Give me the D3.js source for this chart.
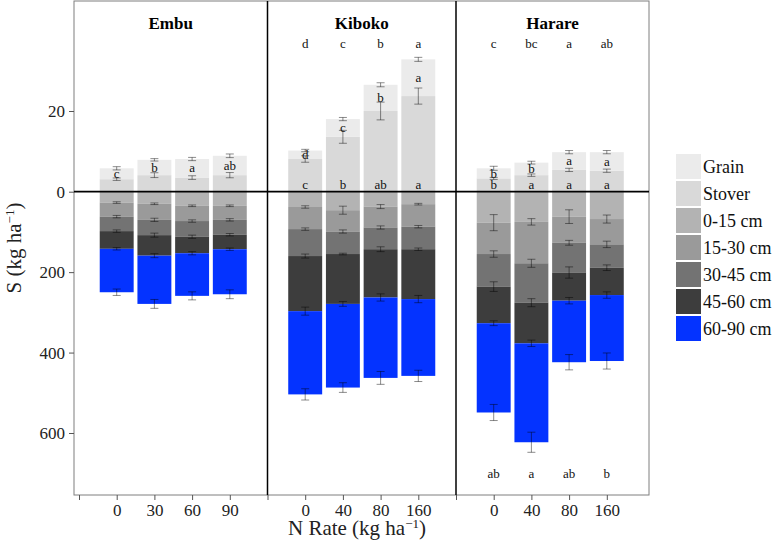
<!DOCTYPE html>
<html><head><meta charset="utf-8">
<script src="https://cdn.jsdelivr.net/npm/d3@7"></script>
<style>body{margin:0;background:#fff}svg{display:block}</style>
</head><body>
<svg id="chart" width="774" height="553"></svg>
<script>
// ---------- DATA ----------
const sites = ["Embu", "Kiboko", "Harare"];
const rateLabels = [["0","30","60","90"], ["0","40","80","160"], ["0","40","80","160"]];
const upperKeys = ["Stover", "Grain"];
const lowerKeys = ["0-15 cm", "15-30 cm", "30-45 cm", "45-60 cm", "60-90 cm"];
const legendKeys = ["Grain", "Stover", "0-15 cm", "15-30 cm", "30-45 cm", "45-60 cm", "60-90 cm"];

// per site, per N rate (kg S ha-1)
const stover = [[3.1, 4.1, 3.5, 4.1], [8.1, 13.6, 20.0, 23.7], [3.3, 4.1, 5.4, 5.2]];
const grain  = [[2.7, 3.8, 4.6, 4.8], [2.1, 4.4, 6.5, 9.1], [2.5, 3.1, 4.4, 4.6]];
const soil0_15  = [[27, 30, 35, 35], [38, 46, 37, 31], [77, 75, 62, 68]];
const soil15_30 = [[35, 40, 38, 35], [55, 53, 52, 56], [78, 103, 65, 63]];
const soil30_45 = [[36, 38, 39, 37], [67, 56, 54, 56], [81, 98, 74, 58]];
const soil45_60 = [[44, 51, 41, 36], [137, 124, 120, 124], [91, 101, 70, 68]];
const soil60_90 = [[108, 120, 106, 112], [207, 208, 200, 191], [222, 246, 153, 164]];

// standard errors (half-widths)
const errStover = [[0.3, 0.6, 0.45, 0.65], [0.8, 1.6, 2.2, 2.0], [0.25, 0.3, 0.4, 0.4]];
const errGrain  = [[0.4, 0.3, 0.4, 0.45], [0.3, 0.4, 0.5, 0.5], [0.5, 0.35, 0.4, 0.4]];
const err0_15  = [[2, 2, 2, 2], [3, 10, 5, 2], [20, 8, 17, 10]];
const err15_30 = [[3, 4, 3, 3], [3, 4, 4, 3], [8, 10, 6, 8]];
const err30_45 = [[3, 5, 4, 3], [5, 2, 6, 3], [12, 10, 14, 7]];
const err45_60 = [[3, 5, 4, 3], [10, 6, 9, 9], [6, 8, 8, 8]];
const err60_90 = [[8, 11, 10, 11], [14, 12, 16, 14], [20, 25, 19, 20]];

// significance letters
const grainLetters  = [["c","b","a","ab"], ["d","c","b","a"], ["b","b","a","a"]];
const stoverLetters = [[], ["c","b","ab","a"], ["b","a","a","a"]];
const totalLetters  = [[], ["d","c","b","a"], ["c","bc","a","ab"]];
const soilLetters   = [[], [], ["ab","a","ab","b"]];

const upperTicks = [0, 20];
const lowerTicks = [200, 400, 600];

// ---------- STYLE ----------
const colors = {"Grain":"#ebebeb","Stover":"#d9d9d9","0-15 cm":"#b3b3b3","15-30 cm":"#9a9a9a",
  "30-45 cm":"#737373","45-60 cm":"#3d3d3d","60-90 cm":"#0433ff"};
const serif = "'Liberation Serif','Times New Roman',serif";

const svg = d3.select("#chart");
const L = 74, R = 649, T = 1, B = 495;

// slots along the x axis: spacer, 4 bars, divider, 4 bars, divider, 4 bars
const slots = [];
const rows = [];
sites.forEach((s, si) => {
  slots.push("sep" + si);
  rateLabels[si].forEach((r, ri) => {
    const id = s + "-" + r;
    slots.push(id);
    const row = {id, site: si, rate: ri, label: r,
      "Stover": stover[si][ri], "Grain": grain[si][ri],
      "0-15 cm": soil0_15[si][ri], "15-30 cm": soil15_30[si][ri], "30-45 cm": soil30_45[si][ri],
      "45-60 cm": soil45_60[si][ri], "60-90 cm": soil60_90[si][ri]};
    row.err = {"Stover": errStover[si][ri], "Grain": errGrain[si][ri],
      "0-15 cm": err0_15[si][ri], "15-30 cm": err15_30[si][ri], "30-45 cm": err30_45[si][ri],
      "45-60 cm": err45_60[si][ri], "60-90 cm": err60_90[si][ri]};
    rows.push(row);
  });
});

const x = d3.scalePoint().domain(slots).range([79, 606.8]);
const step = x.step();
const bw = step * 0.9;
const yUp = d3.scaleLinear().domain([0, 20]).range([191.7, 111]);
const yDown = d3.scaleLinear().domain([0, 600]).range([191.7, 433]);

const upStack = d3.stack().keys(upperKeys)(rows);
const downStack = d3.stack().keys(lowerKeys)(rows);

const gBars = svg.append("g");
upStack.forEach(layer => {
  gBars.selectAll(null).data(layer).join("rect")
    .attr("x", d => x(d.data.id) - bw / 2)
    .attr("width", bw)
    .attr("y", d => yUp(d[1]))
    .attr("height", d => yUp(d[0]) - yUp(d[1]))
    .attr("fill", colors[layer.key]);
});
downStack.forEach(layer => {
  gBars.selectAll(null).data(layer).join("rect")
    .attr("x", d => x(d.data.id) - bw / 2)
    .attr("width", bw)
    .attr("y", d => yDown(d[0]))
    .attr("height", d => yDown(d[1]) - yDown(d[0]))
    .attr("fill", colors[layer.key]);
});

// error bars
const gErr = svg.append("g").attr("stroke", "#000").attr("stroke-opacity", 0.45).attr("stroke-width", 1).attr("fill", "none");
const cap = 4;
function errBar(cx, y1, y2) {
  gErr.append("line").attr("x1", cx).attr("x2", cx).attr("y1", y1).attr("y2", y2);
  gErr.append("line").attr("x1", cx - cap).attr("x2", cx + cap).attr("y1", y1).attr("y2", y1);
  gErr.append("line").attr("x1", cx - cap).attr("x2", cx + cap).attr("y1", y2).attr("y2", y2);
}
upStack.forEach(layer => layer.forEach(d => {
  const e = d.data.err[layer.key], cx = x(d.data.id);
  errBar(cx, yUp(d[1] + e), yUp(d[1] - e));
}));
downStack.forEach(layer => layer.forEach(d => {
  const e = d.data.err[layer.key], cx = x(d.data.id);
  errBar(cx, yDown(d[1] - e), yDown(d[1] + e));
}));

// letters
const gTxt = svg.append("g").attr("font-family", serif).attr("font-size", 13).attr("fill", "#111").attr("text-anchor", "middle");
const gStack = upStack.find(l => l.key === "Grain");
rows.forEach((r, i) => {
  const cx = x(r.id);
  const gl = grainLetters[r.site][r.rate];
  if (gl) gTxt.append("text").attr("x", cx).attr("y", yUp((gStack[i][0] + gStack[i][1]) / 2)).attr("dy", "0.32em").text(gl);
  const sl = stoverLetters[r.site][r.rate];
  if (sl) gTxt.append("text").attr("x", cx).attr("y", yUp(1.8)).attr("dy", "0.32em").text(sl);
  const tl = totalLetters[r.site][r.rate];
  if (tl) gTxt.append("text").attr("x", cx).attr("y", 43.5).attr("dy", "0.32em").text(tl);
  const so = soilLetters[r.site][r.rate];
  if (so) gTxt.append("text").attr("x", cx).attr("y", 474).attr("dy", "0.32em").text(so);
});

// frame, dividers, zero line
svg.append("rect").attr("x", L).attr("y", T).attr("width", R - L).attr("height", B - T)
  .attr("fill", "none").attr("stroke", "#7f7f7f").attr("stroke-width", 1);
["sep1", "sep2"].forEach(s => {
  svg.append("line").attr("x1", x(s)).attr("x2", x(s)).attr("y1", T).attr("y2", B)
    .attr("stroke", "#000").attr("stroke-width", 1.5);
});
svg.append("line").attr("x1", L).attr("x2", R).attr("y1", yUp(0)).attr("y2", yUp(0))
  .attr("stroke", "#000").attr("stroke-width", 1.8);

// panel titles
const panelEdges = [L, x("sep1"), x("sep2"), R];
sites.forEach((s, i) => {
  svg.append("text").attr("x", (panelEdges[i] + panelEdges[i + 1]) / 2).attr("y", 29)
    .attr("text-anchor", "middle").attr("font-family", serif).attr("font-weight", "bold")
    .attr("font-size", 17).attr("fill", "#000").text(s);
});

// y axes
function styleAxis(g) {
  g.select(".domain").remove();
  g.selectAll(".tick line").attr("stroke", "#555");
  g.selectAll(".tick text").attr("font-family", serif).attr("font-size", 17).attr("fill", "#222");
}
svg.append("g").attr("transform", `translate(${L},0)`)
  .call(d3.axisLeft(yUp).tickValues(upperTicks).tickSize(5).tickPadding(4).tickFormat(d3.format("d")))
  .call(styleAxis);
svg.append("g").attr("transform", `translate(${L},0)`)
  .call(d3.axisLeft(yDown).tickValues(lowerTicks).tickSize(5).tickPadding(4).tickFormat(d3.format("d")))
  .call(styleAxis);

// x axis
const labelMap = {};
rows.forEach(r => labelMap[r.id] = r.label);
svg.append("g").attr("transform", `translate(0,${B})`)
  .call(d3.axisBottom(x).tickSize(5).tickPadding(4).tickFormat(d => labelMap[d] || ""))
  .call(g => {
    g.select(".domain").remove();
    g.selectAll(".tick line").attr("stroke", "#555");
    g.selectAll(".tick text").attr("font-family", serif).attr("font-size", 17).attr("fill", "#222");
  });

// axis titles
const xt = svg.append("text").attr("x", 357).attr("y", 535).attr("text-anchor", "middle")
  .attr("font-family", serif).attr("font-size", 21).attr("fill", "#222");
xt.append("tspan").text("N Rate (kg ha");
xt.append("tspan").attr("dy", -7).attr("font-size", 13).text("−1");
xt.append("tspan").attr("dy", 7).text(")");

const yt = svg.append("text").attr("transform", "translate(21,248) rotate(-90)").attr("text-anchor", "middle")
  .attr("font-family", serif).attr("font-size", 21).attr("fill", "#222");
yt.append("tspan").text("S (kg ha");
yt.append("tspan").attr("dy", -7).attr("font-size", 13).text("−1");
yt.append("tspan").attr("dy", 7).text(")");

// legend
const lg = svg.append("g").attr("transform", "translate(676,154)");
legendKeys.forEach((k, i) => {
  lg.append("rect").attr("x", 0).attr("y", i * 27).attr("width", 25).attr("height", 25).attr("fill", colors[k]);
  lg.append("text").attr("x", 27).attr("y", i * 27 + 12.5).attr("dy", "0.35em")
    .attr("font-family", serif).attr("font-size", 18).attr("fill", "#111").text(k);
});
</script>
</body></html>
